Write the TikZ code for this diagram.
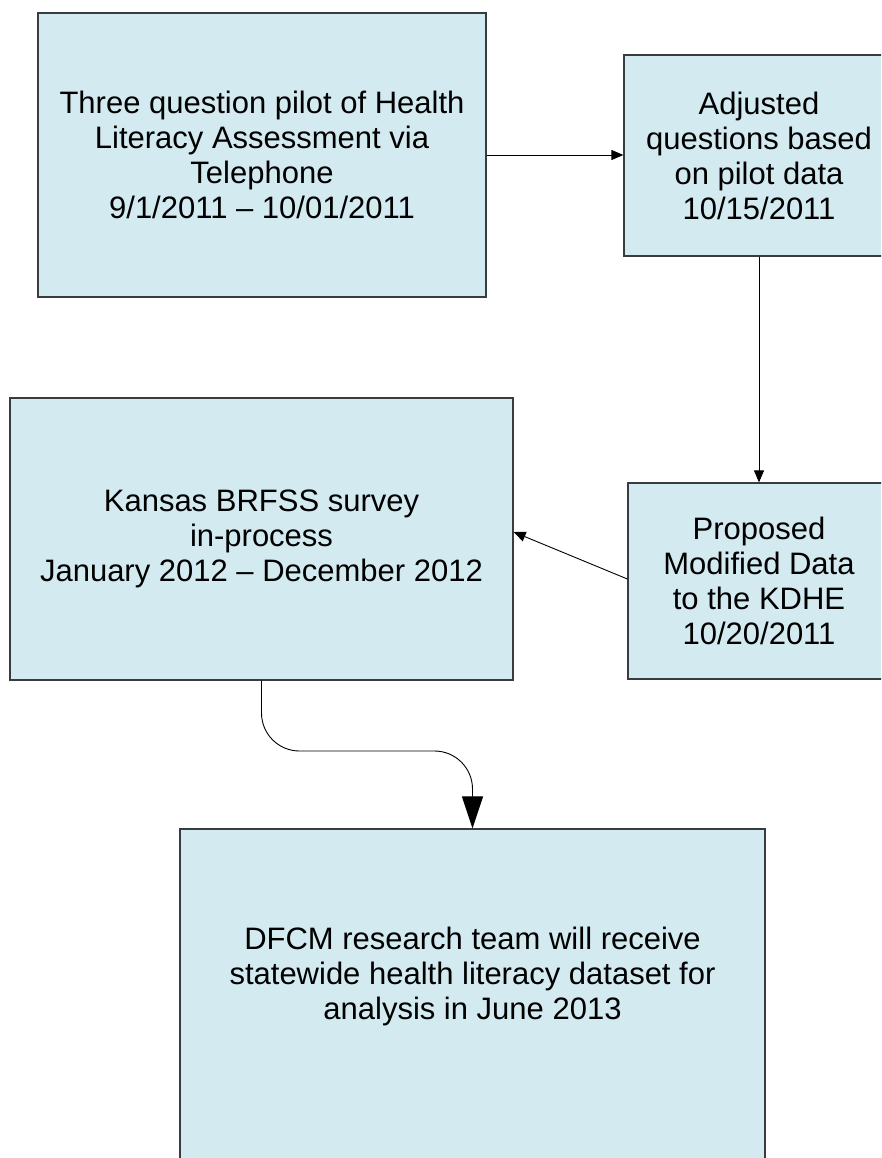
\documentclass[tikz,border=0pt]{standalone}
\usepackage{fontspec}
\setmainfont{Liberation Sans}
\usetikzlibrary{arrows.meta}
\definecolor{boxfill}{RGB}{210,234,240}
\definecolor{boxline}{RGB}{55,60,62}
\begin{document}
\begin{tikzpicture}[x=1pt,y=1pt,
  stepbox/.style={draw=boxline,fill=boxfill,line width=1.2pt,inner sep=0pt,
    align=center,font=\fontsize{31}{35}\selectfont},
  plain/.style={inner sep=0pt,align=center,font=\fontsize{31}{35}\selectfont},
  conn/.style={line width=0.9pt,-{Triangle[length=12pt,width=10pt]}},
  bigconn/.style={line width=0.9pt,-{Triangle[length=32pt,width=21pt]}}]
\useasboundingbox (0,0) rectangle (881,-1158);
\clip (0,0) rectangle (881,-1158);
\node[stepbox,minimum width=448,minimum height=284] (A) at (262,-155)
  {Three question pilot of Health\\Literacy Assessment via\\Telephone\\9/1/2011 -- 10/01/2011};
\node[stepbox,minimum width=270,minimum height=201] (B) at (759,-155.5)
  {Adjusted\\questions based\\on pilot data\\10/15/2011};
\node[stepbox,minimum width=503,minimum height=282] (C) at (261.5,-539)
  {Kansas BRFSS survey\\in-process\\January 2012 -- December 2012};
\node[stepbox,minimum width=262,minimum height=196] (D) at (759,-581)
  {Proposed\\Modified Data\\to the KDHE\\10/20/2011};
\node[stepbox,minimum width=585,minimum height=360] (E) at (472.5,-1009) {};
\node[plain] (Etext) at (472.5,-976)
  {DFCM research team will receive\\statewide health literacy dataset for\\analysis in June 2013};
\coordinate (ctip) at (C.east |- {0,-532});
\coordinate (bend) at (472.5,-751);
\draw[conn] (A.east) -- (A.east -| B.west);
\draw[conn] (B.south) -- (D.north);
\draw[conn] ([yshift=2pt]D.west) -- (ctip);
\draw[bigconn,rounded corners=38pt] (C.south) |- (bend) -- (E.north);
\end{tikzpicture}
\end{document}
